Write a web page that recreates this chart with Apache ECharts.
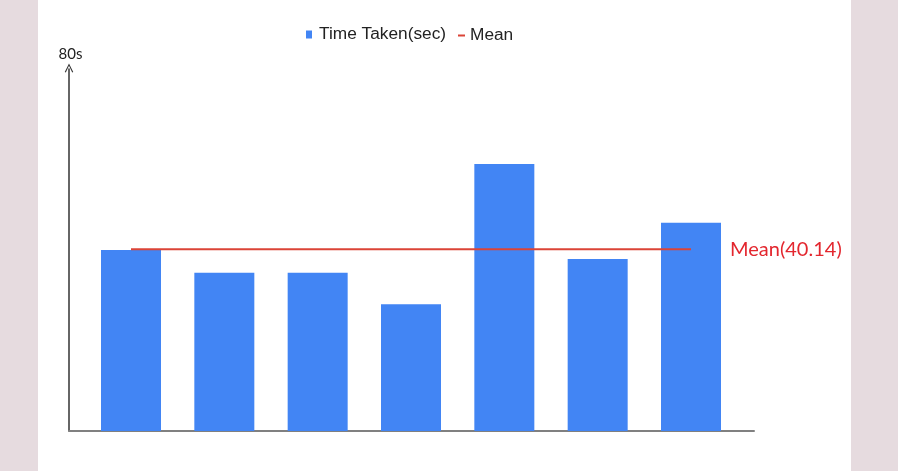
<!DOCTYPE html>
<html>
<head>
<meta charset="utf-8">
<script src="https://cdn.jsdelivr.net/npm/echarts@6/dist/echarts.min.js"></script>
<style>
  html, body { margin: 0; padding: 0; width: 898px; height: 471px; background: #e6dbdf; overflow: hidden; }
  #panel { position: absolute; left: 38px; top: 0; width: 813px; height: 471px; background: #ffffff; }
  #chart { position: absolute; left: 0; top: 0; width: 898px; height: 471px; }
</style>
</head>
<body>
<div id="panel"></div>
<div id="chart"></div>
<script>
// ---- data ----
const categories = ['1', '2', '3', '4', '5', '6', '7'];
const timeTaken = [40, 35, 35, 28, 59, 38, 46];
const meanValue = 40.14;
const yMax = 80;
const yAxisLabel = '80s';
const seriesNames = ['Time Taken(sec)', 'Mean'];

const legendFont = "'Liberation Sans', Arial, sans-serif";
const labelFont = "Lato, 'Noto Sans', sans-serif";

const chart = echarts.init(document.getElementById('chart'), null, { renderer: 'canvas' });

const option = {
  backgroundColor: 'transparent',
  animation: false,
  legend: [
    {
      data: [seriesNames[0]],
      left: 301, top: 21,
      icon: 'rect', itemWidth: 6, itemHeight: 8,
      textStyle: { fontFamily: legendFont, fontSize: 17.3, color: '#222', padding: [0, 0, 0, 2] }
    },
    {
      data: [seriesNames[1]],
      left: 453, top: 22,
      icon: 'rect', itemWidth: 7, itemHeight: 2,
      textStyle: { fontFamily: legendFont, fontSize: 17.3, color: '#222' }
    }
  ],
  grid: [
    { left: 69, right: 144, top: 69, bottom: 40 },
    { left: 84.33, right: 160.33, top: 69, bottom: 40 }
  ],
  xAxis: [
    {
      gridIndex: 0, type: 'value', min: 0, max: 1,
      axisLine: { show: true, onZero: false, lineStyle: { color: '#808080', width: 2 } },
      axisTick: { show: false }, axisLabel: { show: false }, splitLine: { show: false }
    },
    {
      gridIndex: 1, type: 'category', data: categories,
      axisLine: { show: false }, axisTick: { show: false }, axisLabel: { show: false }
    }
  ],
  yAxis: [
    {
      gridIndex: 0, type: 'value', min: 0, max: yMax,
      name: yAxisLabel, nameLocation: 'end', nameGap: 7,
      nameTextStyle: { fontFamily: labelFont, fontSize: 15, color: '#222', align: 'center', padding: [0, 0, 0, 3] },
      axisLine: {
        show: true, onZero: false,
        lineStyle: { color: '#333', width: 1.5 },
        symbol: ['none', 'path://M0,10 L5,0 L10,10 L8.8,10.6 L5,2.6 L1.2,10.6 Z'],
        symbolSize: [9, 9], symbolOffset: [0, 1]
      },
      axisTick: { show: false }, axisLabel: { show: false }, splitLine: { show: false }
    },
    {
      gridIndex: 1, type: 'value', min: 0, max: yMax,
      axisLine: { show: false }, axisTick: { show: false }, axisLabel: { show: false }, splitLine: { show: false }
    }
  ],
  series: [
    {
      name: seriesNames[0], type: 'bar', xAxisIndex: 1, yAxisIndex: 1,
      data: timeTaken, barWidth: 60,
      itemStyle: { color: '#4285f4' }
    },
    {
      name: seriesNames[1], type: 'line', xAxisIndex: 1, yAxisIndex: 1,
      data: categories.map(() => meanValue),
      symbol: 'none', showSymbol: false,
      itemStyle: { color: '#db4437' },
      lineStyle: { color: '#db4437', width: 2 },
      endLabel: {
        show: true, distance: 39,
        formatter: () => 'Mean(' + meanValue.toFixed(2) + ')',
        color: '#e3262e', fontFamily: labelFont, fontSize: 20
      },
      z: 5
    }
  ]
};
chart.setOption(option);
</script>
</body>
</html>
